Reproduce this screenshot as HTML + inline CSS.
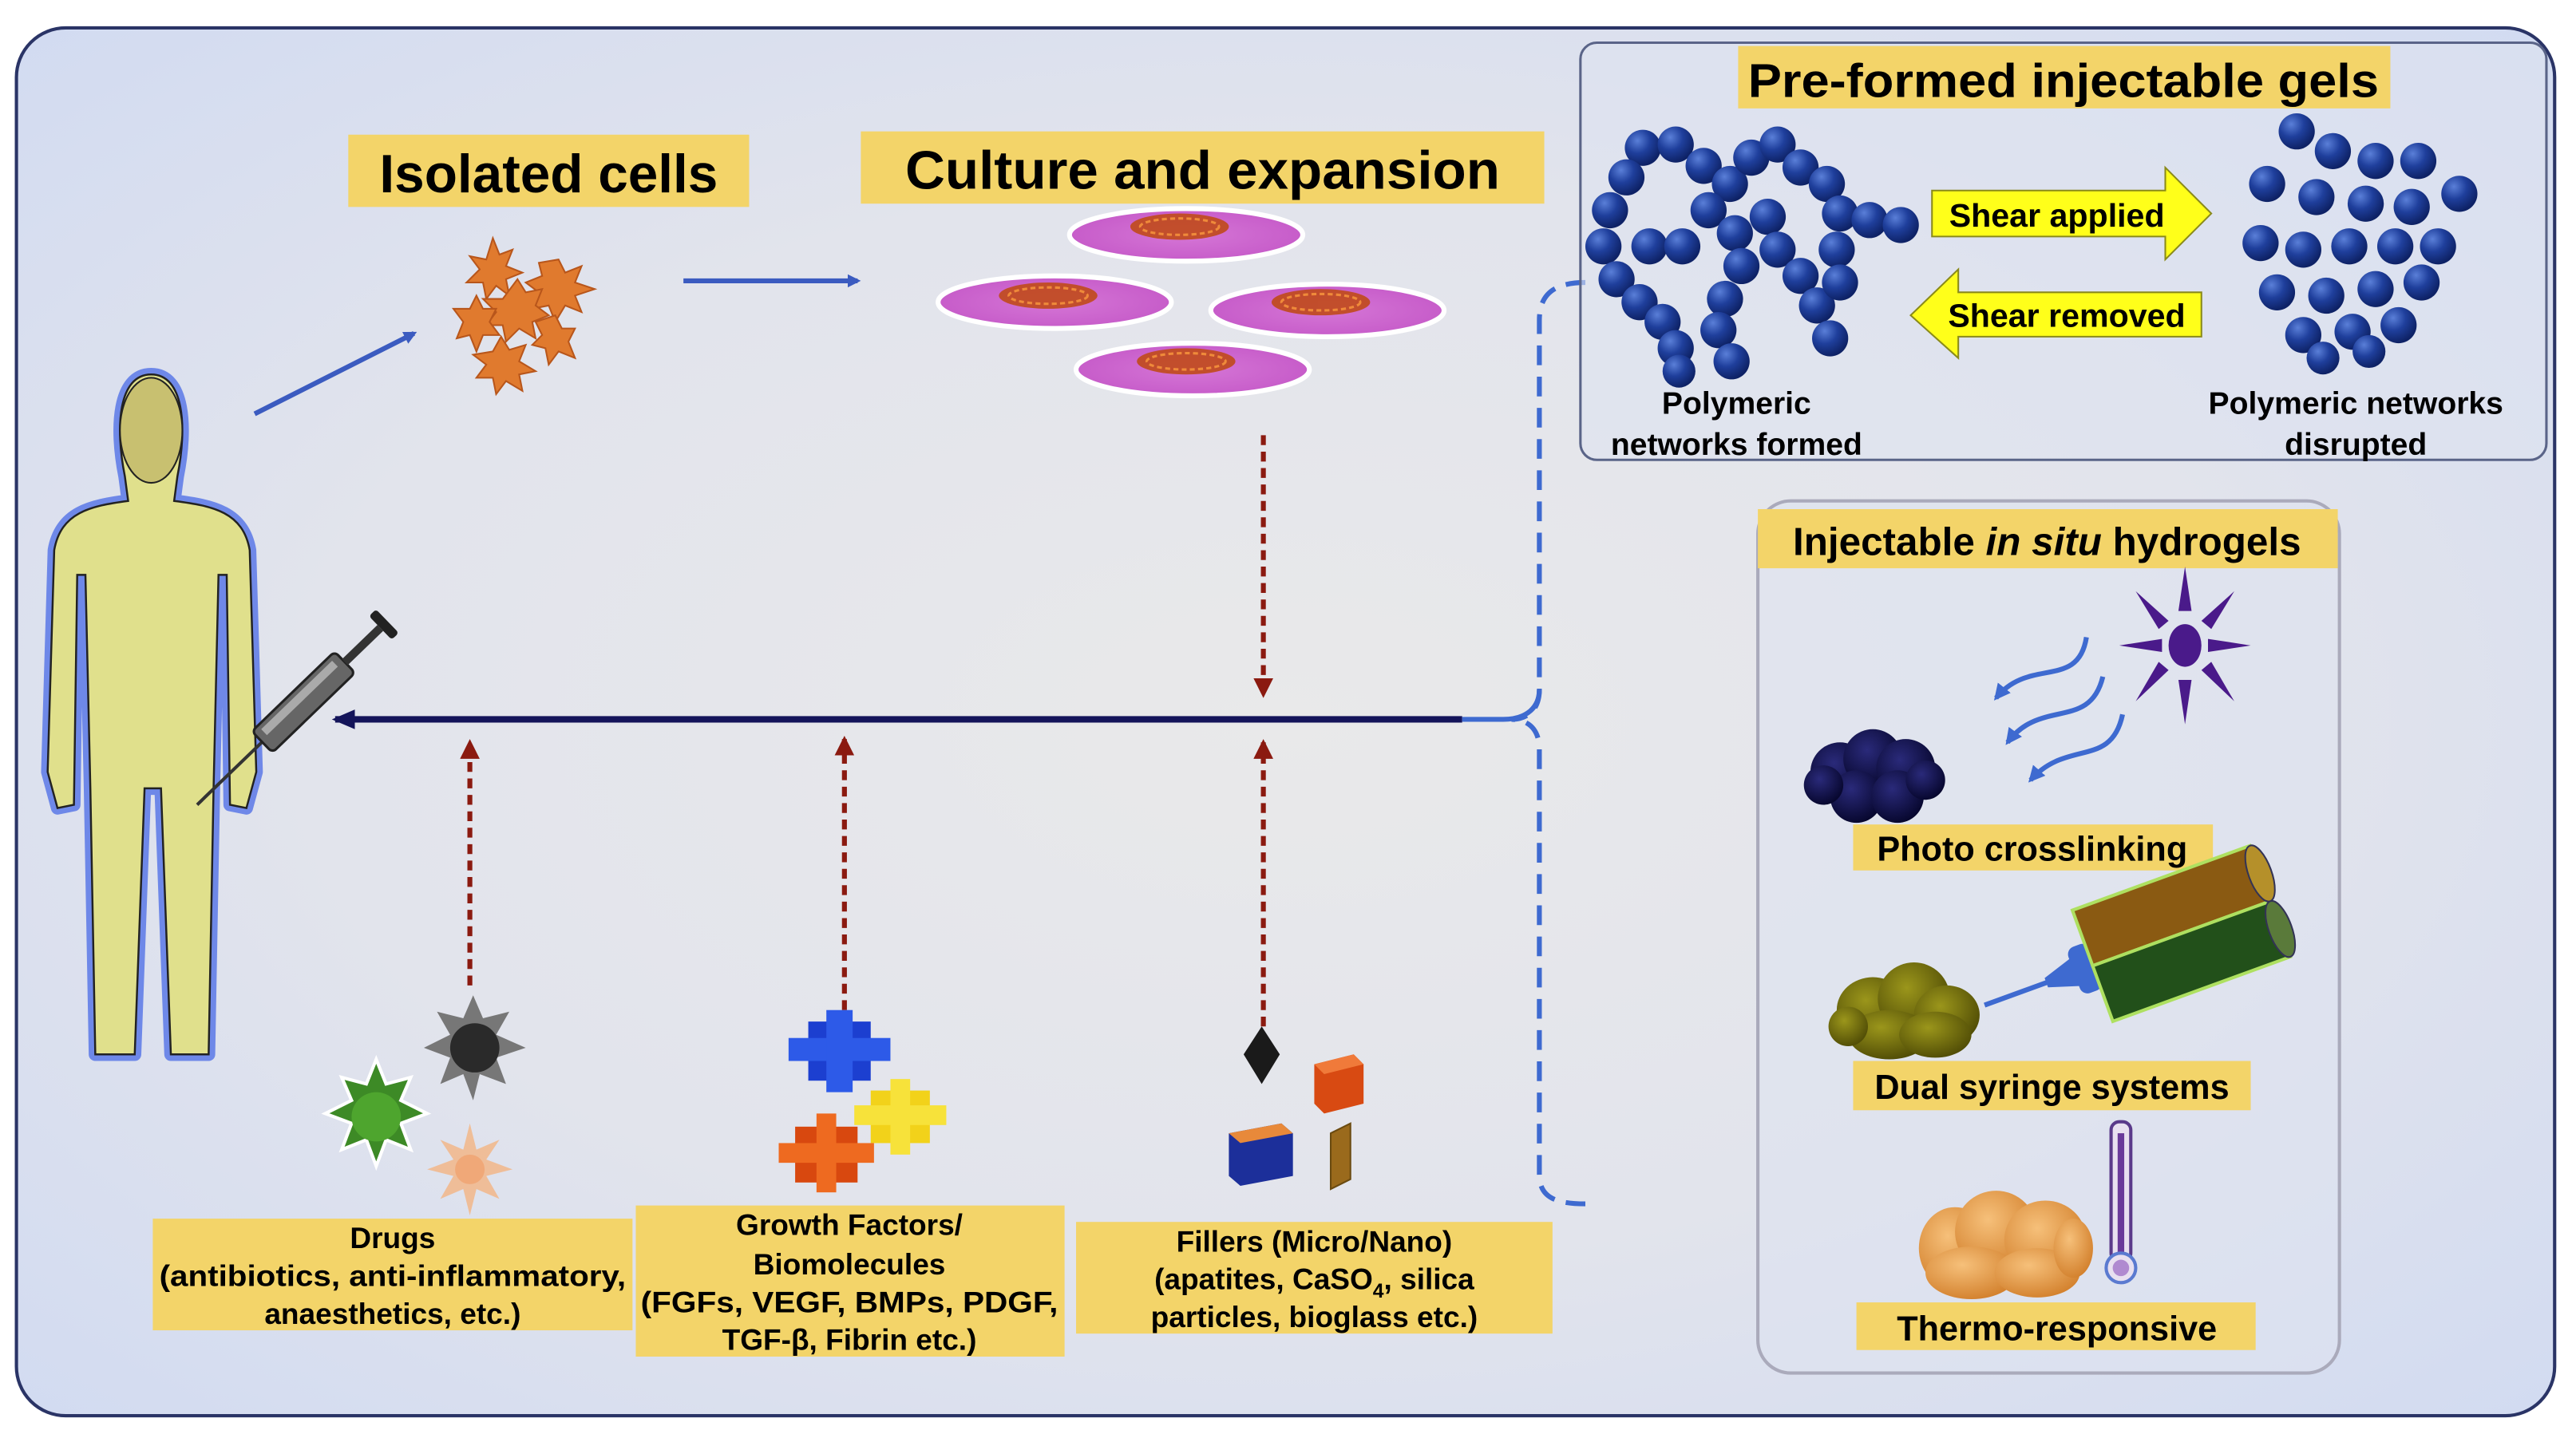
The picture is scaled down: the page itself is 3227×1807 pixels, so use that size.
<!DOCTYPE html>
<html><head><meta charset="utf-8"><style>html,body{margin:0;padding:0;background:#fff}svg{display:block}</style></head>
<body>
<svg width="3227" height="1807" viewBox="0 0 1568 878" preserveAspectRatio="none" xmlns="http://www.w3.org/2000/svg" font-family="'Liberation Sans', sans-serif" font-weight="bold">
<defs>
<radialGradient id="bg" cx="0.5" cy="0.5" r="0.7">
<stop offset="0" stop-color="#e9e9ea"/><stop offset="0.55" stop-color="#e2e4ec"/><stop offset="1" stop-color="#d2dbf1"/></radialGradient>
<radialGradient id="bead" cx="0.35" cy="0.3" r="0.7"><stop offset="0" stop-color="#5a7fd8"/><stop offset="0.5" stop-color="#1f3f9c"/><stop offset="1" stop-color="#0e2266"/></radialGradient>
<radialGradient id="dish" cx="0.5" cy="0.5" r="0.6"><stop offset="0" stop-color="#d576d6"/><stop offset="1" stop-color="#c457c7"/></radialGradient>
<radialGradient id="blob1" cx="0.4" cy="0.35" r="0.7"><stop offset="0" stop-color="#2a2a7a"/><stop offset="1" stop-color="#05052a"/></radialGradient>
<radialGradient id="blob2" cx="0.4" cy="0.35" r="0.7"><stop offset="0" stop-color="#9b961b"/><stop offset="1" stop-color="#4e4a05"/></radialGradient>
<radialGradient id="blob3" cx="0.4" cy="0.35" r="0.7"><stop offset="0" stop-color="#f6c07a"/><stop offset="1" stop-color="#d27f2b"/></radialGradient>
<marker id="ab" markerWidth="8" markerHeight="8" refX="6" refY="4" orient="auto" markerUnits="userSpaceOnUse"><path d="M0,0 L8,4 L0,8 Z" fill="#3b5bc0"/></marker>
<marker id="ar" markerWidth="12" markerHeight="12" refX="10" refY="6" orient="auto" markerUnits="userSpaceOnUse"><path d="M0,0 L12,6 L0,12 Z" fill="#8b1a10"/></marker>
<marker id="an" markerWidth="14" markerHeight="12" refX="12" refY="6" orient="auto" markerUnits="userSpaceOnUse"><path d="M0,0 L14,6 L0,12 Z" fill="#14145a"/></marker>
<marker id="aw" markerWidth="10" markerHeight="10" refX="8" refY="5" orient="auto" markerUnits="userSpaceOnUse"><path d="M0,0 L10,5 L0,10 Z" fill="#3e6ad0"/></marker>
</defs>
<rect x="0" y="0" width="1568" height="878" fill="#fff"/>
<rect x="10" y="17" width="1545" height="845" rx="30" fill="url(#bg)" stroke="#2a3466" stroke-width="2"/>

<rect x="212" y="82" width="244" height="44" fill="#f3d469"/>
<text x="334" y="117" font-size="33" text-anchor="middle" textLength="206" lengthAdjust="spacingAndGlyphs">Isolated cells</text>
<rect x="524" y="80" width="416" height="44" fill="#f3d469"/>
<text x="732" y="115" font-size="33" text-anchor="middle" textLength="362" lengthAdjust="spacingAndGlyphs">Culture and expansion</text>

<g fill="#e07a2e" stroke="#b8561b" stroke-width="1">
<polygon points="300,145 304,155 312,152 308,162 318,166 308,170 310,180 302,174 296,182 294,172 284,172 292,164 286,156 296,158"/>
<polygon points="340,158 344,166 354,162 350,172 362,176 350,180 354,190 344,186 338,196 334,186 324,188 328,178 320,172 330,168 328,160"/>
<polygon points="315,170 320,178 330,176 326,186 334,192 324,196 326,206 316,200 308,208 306,198 296,198 302,190 294,182 306,182"/>
<polygon points="290,180 294,188 302,188 298,196 304,204 294,204 290,214 286,204 278,206 282,196 276,188 286,188"/>
<polygon points="338,192 342,200 350,200 346,208 350,218 340,214 334,222 332,212 324,210 330,204 326,196"/>
<polygon points="305,205 310,213 320,210 316,220 326,226 316,228 318,238 308,232 302,240 300,230 290,230 296,222 288,216 300,214"/>
</g>

<line x1="155" y1="252" x2="252" y2="203" stroke="#3b5bc0" stroke-width="3" marker-end="url(#ab)"/>
<line x1="416" y1="171" x2="522" y2="171" stroke="#3b5bc0" stroke-width="3" marker-end="url(#ab)"/>

<g stroke="#fff" stroke-width="3">
<ellipse cx="722" cy="143" rx="71" ry="16" fill="url(#dish)"/>
<ellipse cx="642" cy="184" rx="71" ry="16" fill="url(#dish)"/>
<ellipse cx="808" cy="189" rx="71" ry="16" fill="url(#dish)"/>
<ellipse cx="726" cy="225" rx="71" ry="16" fill="url(#dish)"/>
</g>
<g fill="#c04a1a" opacity="0.9">
<ellipse cx="718" cy="138" rx="30" ry="8"/><ellipse cx="638" cy="180" rx="30" ry="8"/><ellipse cx="804" cy="184" rx="30" ry="8"/><ellipse cx="722" cy="220" rx="30" ry="8"/>
</g>
<g stroke="#ef8a3a" stroke-width="1.5" fill="none" stroke-dasharray="3 2">
<ellipse cx="718" cy="138" rx="24" ry="5"/><ellipse cx="638" cy="180" rx="24" ry="5"/><ellipse cx="804" cy="184" rx="24" ry="5"/><ellipse cx="722" cy="220" rx="24" ry="5"/>
</g>

<g stroke="#8b1a10" stroke-width="3" stroke-dasharray="6 4" fill="none">
<line x1="769" y1="265" x2="769" y2="423" marker-end="url(#ar)"/>
<line x1="286" y1="600" x2="286" y2="452" marker-end="url(#ar)"/>
<line x1="514" y1="615" x2="514" y2="450" marker-end="url(#ar)"/>
<line x1="769" y1="625" x2="769" y2="452" marker-end="url(#ar)"/>
</g>

<line x1="890" y1="438" x2="204" y2="438" stroke="#14145a" stroke-width="4" marker-end="url(#an)"/>
<path d="M890,438 L915,438 C930,438 937,430 937,420" stroke="#3e6ad0" stroke-width="3" fill="none"/>
<path d="M965,172 C945,172 937,180 937,195 L937,420 C937,432 930,438 920,438 C930,438 937,444 937,456 L937,715 C937,728 945,733 965,733" stroke="#3e6ad0" stroke-width="3" fill="none" stroke-dasharray="12 7"/>

<path d="M92,228 C112,228 114,260 108,290 L106,305 C130,308 148,312 152,335 L156,470 L150,492 L140,490 L138,350 L133,350 L130,480 L127,642 L104,642 L98,480 L88,480 L82,642 L58,642 L55,480 L52,350 L47,350 L45,490 L35,492 L29,470 L33,335 C37,312 55,308 78,305 L76,290 C70,260 72,228 92,228 Z" fill="none" stroke="#5a78e6" stroke-width="8" stroke-linejoin="round" opacity="0.85"/>
<path d="M92,228 C112,228 114,260 108,290 L106,305 C130,308 148,312 152,335 L156,470 L150,492 L140,490 L138,350 L133,350 L130,480 L127,642 L104,642 L98,480 L88,480 L82,642 L58,642 L55,480 L52,350 L47,350 L45,490 L35,492 L29,470 L33,335 C37,312 55,308 78,305 L76,290 C70,260 72,228 92,228 Z" fill="#e0e08c" stroke="#222" stroke-width="1.2"/>
<ellipse cx="92" cy="262" rx="19" ry="32" fill="#c8c070" stroke="#222" stroke-width="1"/>

<g transform="translate(120,490) rotate(-44)">
<line x1="0" y1="0" x2="55" y2="0" stroke="#333" stroke-width="2"/>
<rect x="55" y="-9" width="70" height="18" rx="3" fill="#666" stroke="#222" stroke-width="1.5"/>
<rect x="60" y="-6" width="60" height="5" fill="#aaa"/>
<rect x="125" y="-2.5" width="30" height="5" fill="#333"/>
<rect x="155" y="-10" width="6" height="20" rx="2" fill="#222"/>
</g>

<g>
<polygon points="288,606 294,620 310,616 302,630 320,638 302,644 308,660 292,654 288,670 282,654 268,660 274,644 258,638 274,630 266,616 282,620" fill="#777"/>
<circle cx="289" cy="638" r="15" fill="#2a2a2a"/>
<polygon points="229,645 235,660 250,656 244,670 260,678 244,684 250,700 235,694 229,710 223,694 208,700 214,684 198,678 214,670 208,656 223,660" fill="#3d8a26" stroke="#fff" stroke-width="2"/>
<circle cx="229" cy="680" r="15" fill="#4ea52e"/>
<polygon points="286,684 290,700 304,694 296,706 312,712 296,716 304,730 290,724 286,740 282,724 268,730 276,716 260,712 276,706 268,694 282,700" fill="#f1b98e" opacity="0.9"/>
<circle cx="286" cy="712" r="9" fill="#f0a878"/>
</g>
<g>
<rect x="492" y="622" width="38" height="36" fill="#1c3fd0"/><rect x="480" y="632" width="62" height="14" fill="#2d5ae8"/><rect x="503" y="615" width="16" height="50" fill="#2d5ae8"/>
<rect x="530" y="664" width="36" height="32" fill="#f2d21a"/><rect x="520" y="673" width="56" height="12" fill="#f7e23a"/><rect x="542" y="657" width="12" height="46" fill="#f7e23a"/>
<rect x="484" y="686" width="38" height="34" fill="#d8480f"/><rect x="474" y="696" width="58" height="12" fill="#ee6a20"/><rect x="497" y="678" width="12" height="48" fill="#ee6a20"/>
</g>
<polygon points="768,625 779,642 768,660 757,642" fill="#1a1a1a"/>
<g><polygon points="800,648 824,642 830,648 830,672 806,678 800,672" fill="#d84a12"/><polygon points="800,648 824,642 830,648 806,654" fill="#f07a3a"/></g>
<g><polygon points="748,690 780,684 787,690 787,716 755,722 748,716" fill="#1c2f9a"/><polygon points="748,690 780,684 787,690 755,696" fill="#e8893a"/></g>
<polygon points="810,690 822,684 822,718 810,724" fill="#9a6a1c" stroke="#6a4a10"/>

<rect x="93" y="742" width="292" height="68" fill="#f3d469"/>
<g font-size="18" text-anchor="middle">
<text x="239" y="760">Drugs</text>
<text x="239" y="783" textLength="284" lengthAdjust="spacingAndGlyphs">(antibiotics, anti-inflammatory,</text>
<text x="239" y="806">anaesthetics, etc.)</text>
</g>
<rect x="387" y="734" width="261" height="92" fill="#f3d469"/>
<g font-size="18" text-anchor="middle">
<text x="517" y="752">Growth Factors/</text>
<text x="517" y="776">Biomolecules</text>
<text x="517" y="799" textLength="254" lengthAdjust="spacingAndGlyphs">(FGFs, VEGF, BMPs, PDGF,</text>
<text x="517" y="822">TGF-β, Fibrin etc.)</text>
</g>
<rect x="655" y="744" width="290" height="68" fill="#f3d469"/>
<g font-size="18" text-anchor="middle">
<text x="800" y="762">Fillers (Micro/Nano)</text>
<text x="800" y="785">(apatites, CaSO<tspan font-size="12" dy="5">4</tspan><tspan dy="-5">, silica</tspan></text>
<text x="800" y="808">particles, bioglass etc.)</text>
</g>

<rect x="962" y="26" width="588" height="254" rx="10" fill="#dde2f0" fill-opacity="0.6" stroke="#5a6488" stroke-width="1.5"/>
<rect x="1058" y="28" width="397" height="38" fill="#f3d469"/>
<text x="1256" y="59" font-size="29" text-anchor="middle" textLength="384" lengthAdjust="spacingAndGlyphs">Pre-formed injectable gels</text>
<g fill="url(#bead)">
<circle cx="1000" cy="90" r="11"/><circle cx="1020" cy="88" r="11"/><circle cx="1037" cy="101" r="11"/><circle cx="1053" cy="112" r="11"/><circle cx="1066" cy="96" r="11"/><circle cx="1082" cy="88" r="11"/><circle cx="1096" cy="102" r="11"/><circle cx="1112" cy="112" r="11"/><circle cx="1120" cy="130" r="11"/><circle cx="1138" cy="134" r="11"/><circle cx="1157" cy="137" r="11"/>
<circle cx="990" cy="108" r="11"/><circle cx="980" cy="128" r="11"/><circle cx="976" cy="150" r="11"/><circle cx="984" cy="170" r="11"/><circle cx="998" cy="184" r="11"/><circle cx="1012" cy="196" r="11"/><circle cx="1020" cy="212" r="11"/><circle cx="1022" cy="226" r="10"/>
<circle cx="1040" cy="128" r="11"/><circle cx="1056" cy="142" r="11"/><circle cx="1060" cy="162" r="11"/><circle cx="1050" cy="182" r="11"/><circle cx="1046" cy="201" r="11"/><circle cx="1054" cy="220" r="11"/>
<circle cx="1076" cy="132" r="11"/><circle cx="1082" cy="152" r="11"/><circle cx="1096" cy="168" r="11"/><circle cx="1106" cy="186" r="11"/><circle cx="1114" cy="206" r="11"/>
<circle cx="1004" cy="150" r="11"/><circle cx="1024" cy="150" r="11"/><circle cx="1118" cy="152" r="11"/><circle cx="1120" cy="172" r="11"/>
<circle cx="1398" cy="80" r="11"/><circle cx="1420" cy="92" r="11"/><circle cx="1446" cy="98" r="11"/><circle cx="1472" cy="98" r="11"/><circle cx="1380" cy="112" r="11"/><circle cx="1410" cy="120" r="11"/><circle cx="1440" cy="124" r="11"/><circle cx="1468" cy="126" r="11"/><circle cx="1497" cy="118" r="11"/><circle cx="1376" cy="148" r="11"/><circle cx="1402" cy="152" r="11"/><circle cx="1430" cy="150" r="11"/><circle cx="1458" cy="150" r="11"/><circle cx="1484" cy="150" r="11"/><circle cx="1386" cy="178" r="11"/><circle cx="1416" cy="180" r="11"/><circle cx="1446" cy="176" r="11"/><circle cx="1474" cy="172" r="11"/><circle cx="1402" cy="204" r="11"/><circle cx="1432" cy="202" r="11"/><circle cx="1460" cy="198" r="11"/><circle cx="1414" cy="218" r="10"/><circle cx="1442" cy="214" r="10"/>
</g>
<polygon points="1176,116 1318,116 1318,102 1346,130 1318,158 1318,144 1176,144" fill="#ffff1a" stroke="#8a8a1a" stroke-width="1"/>
<text x="1252" y="138" font-size="20" text-anchor="middle">Shear applied</text>
<polygon points="1340,178 1192,178 1192,164 1163,192 1192,218 1192,205 1340,205" fill="#ffff1a" stroke="#8a8a1a" stroke-width="1"/>
<text x="1258" y="199" font-size="20" text-anchor="middle">Shear removed</text>
<g font-size="19" text-anchor="middle">
<text x="1057" y="252">Polymeric</text>
<text x="1057" y="277">networks formed</text>
<text x="1434" y="252">Polymeric networks</text>
<text x="1434" y="277">disrupted</text>
</g>

<rect x="1070" y="305" width="354" height="531" rx="20" fill="#dde2f0" fill-opacity="0.6" stroke="#aab" stroke-width="2"/>
<rect x="1070" y="310" width="353" height="36" fill="#f3d469"/>
<text x="1246" y="338" font-size="24" text-anchor="middle">Injectable <tspan font-style="italic">in situ</tspan> hydrogels</text>
<g fill="#4a1a8a">
<ellipse cx="1330" cy="393" rx="10" ry="13"/>
<polygon points="1330,345 1334,372 1326,372"/><polygon points="1330,441 1334,414 1326,414"/>
<polygon points="1290,393 1316,389 1316,397"/><polygon points="1370,393 1344,389 1344,397"/>
<polygon points="1300,360 1320,378 1314,383"/><polygon points="1360,360 1346,383 1340,378"/>
<polygon points="1300,427 1314,403 1320,408"/><polygon points="1360,427 1340,408 1346,403"/>
</g>
<g stroke="#3e6ad0" stroke-width="3" fill="none">
<path d="M1270,388 C1265,420 1235,400 1215,425" marker-end="url(#aw)"/>
<path d="M1280,412 C1272,445 1242,425 1222,452" marker-end="url(#aw)"/>
<path d="M1292,435 C1285,468 1258,450 1236,475" marker-end="url(#aw)"/>
</g>
<g fill="url(#blob1)">
<circle cx="1120" cy="470" r="18"/><circle cx="1140" cy="462" r="18"/><circle cx="1160" cy="468" r="18"/><circle cx="1130" cy="485" r="16"/><circle cx="1155" cy="485" r="16"/><circle cx="1110" cy="478" r="12"/><circle cx="1172" cy="475" r="12"/>
</g>
<rect x="1128" y="502" width="219" height="28" fill="#f3d469"/>
<text x="1237" y="524" font-size="21" text-anchor="middle">Photo crosslinking</text>
<g transform="translate(1208,612) rotate(-20)">
<line x1="0" y1="0" x2="55" y2="0" stroke="#3e6ad0" stroke-width="3"/>
<polygon points="40,-3 62,-10 62,10 40,3" fill="#3e6ad0"/>
<rect x="58" y="-15" width="14" height="30" rx="5" fill="#3e6ad0"/>
<rect x="70" y="-36" width="115" height="36" fill="#8a5a12" stroke="#aee060" stroke-width="2"/>
<rect x="70" y="0" width="115" height="36" fill="#22501a" stroke="#aee060" stroke-width="2"/>
<ellipse cx="185" cy="-18" rx="7" ry="18" fill="#b5902a" stroke="#335" stroke-width="1"/>
<ellipse cx="185" cy="18" rx="7" ry="18" fill="#5a7a3a" stroke="#335" stroke-width="1"/>
</g>
<g fill="url(#blob2)">
<ellipse cx="1140" cy="615" rx="22" ry="20"/><ellipse cx="1165" cy="608" rx="22" ry="22"/><ellipse cx="1185" cy="618" rx="20" ry="18"/><ellipse cx="1150" cy="630" rx="25" ry="15"/><ellipse cx="1178" cy="630" rx="22" ry="14"/><ellipse cx="1125" cy="625" rx="12" ry="12"/>
</g>
<rect x="1128" y="646" width="242" height="30" fill="#f3d469"/>
<text x="1249" y="669" font-size="21" text-anchor="middle">Dual syringe systems</text>
<rect x="1285" y="683" width="12" height="85" rx="5" fill="#e8e0f0" stroke="#5a3a8a" stroke-width="2"/>
<rect x="1289" y="690" width="4" height="75" fill="#6a3a9a"/>
<circle cx="1291" cy="772" r="9" fill="#e8e0f0" stroke="#5a7ad0" stroke-width="2"/>
<circle cx="1291" cy="772" r="5" fill="#b08ad0"/>
<g fill="url(#blob3)">
<ellipse cx="1190" cy="760" rx="22" ry="25"/><ellipse cx="1215" cy="750" rx="25" ry="25"/><ellipse cx="1245" cy="755" rx="25" ry="24"/><ellipse cx="1200" cy="775" rx="28" ry="16"/><ellipse cx="1240" cy="775" rx="26" ry="15"/><ellipse cx="1262" cy="760" rx="12" ry="18"/>
</g>
<rect x="1130" y="793" width="243" height="29" fill="#f3d469"/>
<text x="1252" y="816" font-size="21" text-anchor="middle">Thermo-responsive</text>
</svg>
</body></html>
